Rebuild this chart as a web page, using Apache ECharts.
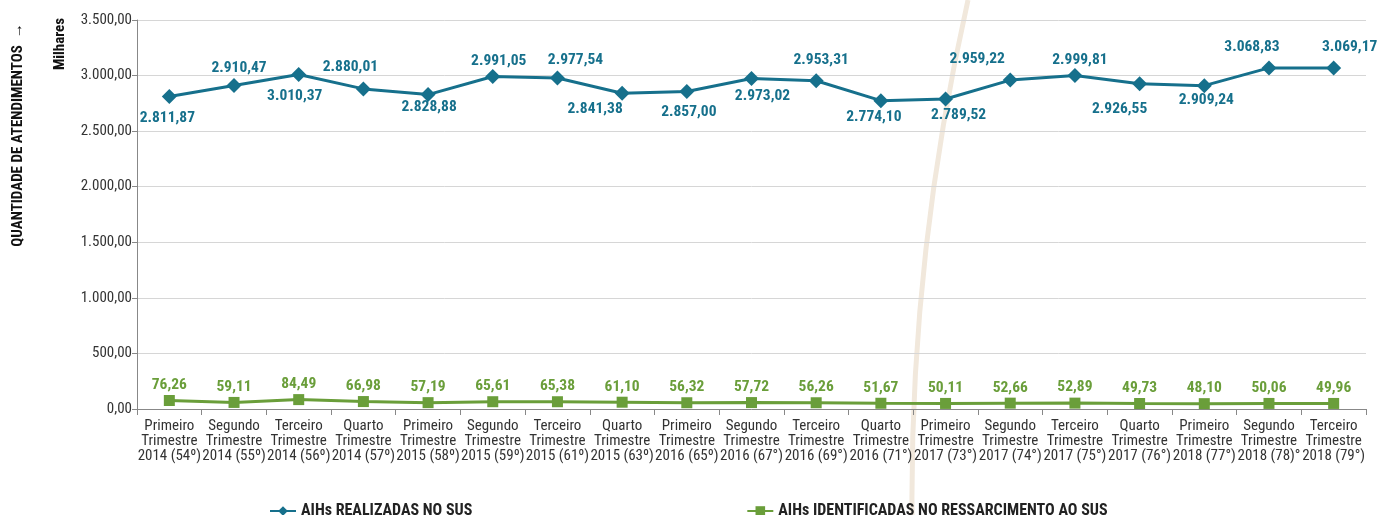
<!DOCTYPE html>
<html><head><meta charset="utf-8">
<script src="https://cdn.jsdelivr.net/npm/echarts@6/dist/echarts.min.js"></script>
<style>html,body{margin:0;padding:0;background:#fff}#c{width:1378px;height:515px}</style>
</head><body><div id="c"></div>
<script>
const categories = [
 'Primeiro\nTrimestre\n2014 (54º)','Segundo\nTrimestre\n2014 (55º)','Terceiro\nTrimestre\n2014 (56º)','Quarto\nTrimestre\n2014 (57º)',
 'Primeiro\nTrimestre\n2015 (58º)','Segundo\nTrimestre\n2015 (59º)','Terceiro\nTrimestre\n2015 (61º)','Quarto\nTrimestre\n2015 (63º)',
 'Primeiro\nTrimestre\n2016 (65º)','Segundo\nTrimestre\n2016 (67°)','Terceiro\nTrimestre\n2016 (69°)','Quarto\nTrimestre\n2016 (71°)',
 'Primeiro\nTrimestre\n2017 (73°)','Segundo\nTrimestre\n2017 (74°)','Terceiro\nTrimestre\n2017 (75°)','Quarto\nTrimestre\n2017 (76°)',
 'Primeiro\nTrimestre\n2018 (77°)','Segundo\nTrimestre\n2018 (78)°','Terceiro\nTrimestre\n2018 (79°)'
];
const realizadas = [2811.87,2910.47,3010.37,2880.01,2828.88,2991.05,2977.54,2841.38,2857.00,2973.02,2953.31,2774.10,2789.52,2959.22,2999.81,2926.55,2909.24,3068.83,3069.17];
const identificadas = [76.26,59.11,84.49,66.98,57.19,65.61,65.38,61.10,56.32,57.72,56.26,51.67,50.11,52.66,52.89,49.73,48.10,50.06,49.96];
const yTicks = {min:0, max:3500, interval:500};
const seriesNames = ['AIHs REALIZADAS NO SUS','AIHs IDENTIFICADAS NO RESSARCIMENTO AO SUS'];

// label placement (style only): offsets of each blue value label from its marker, in px
const realizadasLabelOffsets = [[-2,22],[5,-17],[-4,22],[-13,-22],[1,13],[6,-15],[18,-18],[-27,16],[2,21],[11,18],[5,-21],[-7,16],[13,16],[-33,-21],[5,-15],[-20,25],[2,14],[-17,-21],[16,-21]];

const BLUE = '#16708c', GREEN = '#6a9e3a';
const FONT = '"Liberation Sans Narrow","Roboto Condensed","Liberation Sans",sans-serif';
function fmt(v){
  const parts = v.toFixed(2).split('.');
  parts[0] = parts[0].replace(/\B(?=(\d{3})+(?!\d))/g,'.');
  return parts[0]+','+parts[1];
}
const chart = echarts.init(document.getElementById('c'));
chart.setOption({
  animation:false,
  textStyle:{fontFamily:FONT},
  grid:{left:137,right:12,top:20,bottom:106},
  legend:{
    top:498, left:264, itemGap:274, itemWidth:26, itemHeight:12,
    textStyle:{fontFamily:FONT,fontWeight:'bold',fontSize:16,color:'#222'},
    data:seriesNames
  },
  xAxis:{
    type:'category', data:categories, boundaryGap:true,
    axisLine:{lineStyle:{color:'#888',width:1}},
    axisTick:{show:true,interval:0,length:6,lineStyle:{color:'#888'}},
    axisLabel:{interval:0,fontFamily:FONT,fontSize:15,lineHeight:15,color:'#333',margin:10}
  },
  yAxis:{
    type:'value', min:yTicks.min, max:yTicks.max, interval:yTicks.interval,
    axisLine:{show:true,lineStyle:{color:'#888'}},
    axisTick:{show:true,length:5,lineStyle:{color:'#888'}},
    splitLine:{lineStyle:{color:'#d6d6d6',width:1}},
    axisLabel:{fontFamily:FONT,fontSize:15,color:'#333',margin:5,formatter:v=>fmt(v)}
  },
  graphic:[
    {type:'bezierCurve',z:-10,silent:true,shape:{x1:968,y1:0,x2:912,y2:515,cpx1:910,cpy1:258},style:{stroke:'#f1e8dc',lineWidth:5,fill:null}},
    {type:'text',rotation:Math.PI/2,x:18,y:135,style:{text:'QUANTIDADE DE ATENDIMENTOS  →',font:'bold 15px '+FONT,fill:'#111',textAlign:'center',textVerticalAlign:'middle'}},
    {type:'text',rotation:Math.PI/2,x:60,y:44,style:{text:'Milhares',font:'bold 15px '+FONT,fill:'#111',textAlign:'center',textVerticalAlign:'middle'}}
  ],
  series:[
    {
      name:seriesNames[0], type:'line',
      data:realizadas.map((v,i)=>({value:v,label:{offset:realizadasLabelOffsets[i]}})),
      symbol:'diamond', symbolSize:15, lineStyle:{color:BLUE,width:3}, itemStyle:{color:BLUE},
      label:{show:true,position:'inside',fontFamily:FONT,fontWeight:'bold',fontSize:15.5,color:BLUE,formatter:p=>fmt(p.value)}
    },
    {
      name:seriesNames[1], type:'line', data:identificadas,
      symbol:'rect', symbolSize:11, lineStyle:{color:GREEN,width:3}, itemStyle:{color:GREEN},
      label:{show:true,position:'top',fontFamily:FONT,fontWeight:'bold',fontSize:15.5,color:GREEN,distance:2,formatter:p=>fmt(p.value)}
    }
  ]
});
</script></body></html>
